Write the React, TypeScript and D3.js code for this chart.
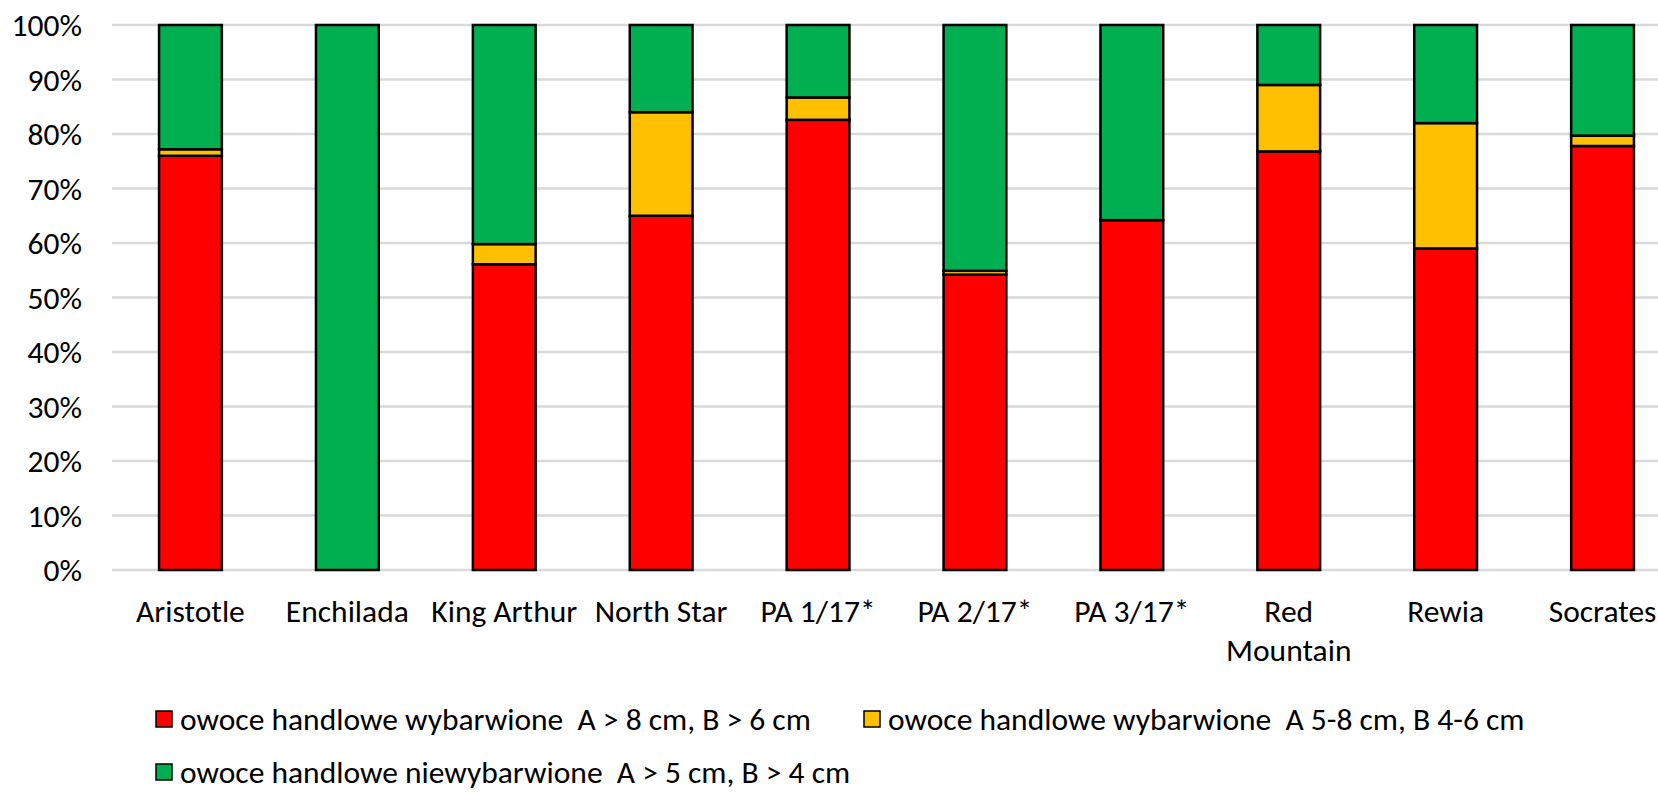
import * as d3 from 'd3';
import React from 'react';

// cultivars on the x axis
const categories = ["Aristotle", "Enchilada", "King Arthur", "North Star", "PA 1/17*",
    "PA 2/17*", "PA 3/17*", "Red Mountain", "Rewia", "Socrates"];

// shares of fruit (%)
const wybarwioneDuze = [76.0, 0, 56.1, 65.0, 82.6, 54.2, 64.2, 76.8, 59.0, 77.8];
const wybarwioneSrednie = [1.2, 0, 3.7, 19.0, 4.1, 0.7, 0, 12.2, 23.0, 1.9];
const niewybarwione = [22.8, 100, 40.2, 16.0, 13.3, 45.1, 35.8, 11.0, 18.0, 20.3];

const seriesNames = [
    "owoce handlowe wybarwione  A > 8 cm, B > 6 cm",
    "owoce handlowe wybarwione  A 5-8 cm, B 4-6 cm",
    "owoce handlowe niewybarwione  A > 5 cm, B > 4 cm",
];
const seriesColors = ["#FF0000", "#FFC000", "#00B050"];
const yTicks = [0, 10, 20, 30, 40, 50, 60, 70, 80, 90, 100];

const FONT = "Calibri, Carlito, Lato, 'Liberation Sans', sans-serif";
const W = 1658, H = 793;
const margin = {l: 112, t: 25, b: 570};

// measure text so long tick labels wrap like Excel does
function measure(text, size) {
    const c = document.createElement("canvas").getContext("2d");
    c.font = `${size}px Lato`;
    return c.measureText(text).width;
}

function wrap(label, width, size) {
    const words = label.split(" ");
    const lines = [];
    let line = [];
    words.forEach((w) => {
        const next = [...line, w].join(" ");
        if (line.length && measure(next, size) > width) {
            lines.push(line.join(" "));
            line = [w];
        } else line.push(w);
    });
    lines.push(line.join(" "));
    return lines;
}

export default function App() {
    const keys = ["a", "b", "c"];
    const table = categories.map((c, i) => ({
        cat: c, a: wybarwioneDuze[i], b: wybarwioneSrednie[i], c: niewybarwione[i],
    }));
    const stacked = d3.stack().keys(keys)(table);

    const x = d3.scaleBand().domain(categories)
        .range([margin.l, margin.l + 1569])
        .paddingInner(0.6)
        .paddingOuter(0.3);
    const y = d3.scaleLinear().domain([0, 100]).range([margin.b, margin.t]);
    const fs = 31.5;

    return (
        <svg width={W} height={H} style={{display: "block", position: "absolute", left: 0, top: 0}}
             fontFamily={FONT}>
            <rect width={W} height={H} fill="#fff" />
            {/* gridlines and y ticks */}
            {yTicks.map((t) => (
                <g key={t}>
                    <line x1={margin.l} x2={margin.l + 1569} y1={y(t)} y2={y(t)}
                          stroke="#d9d9d9" strokeWidth={2.5} />
                    <text x={82} y={y(t)} dy="0.35em" textAnchor="end" fontSize={fs} fill="#000">
                        {d3.format("d")(t)}%
                    </text>
                </g>
            ))}
            {/* stacked bars */}
            {stacked.map((s, si) => (
                <g key={s.key} fill={seriesColors[si]}>
                    {s.map((d) => (d[1] - d[0] > 0 ?
                        <rect key={d.data.cat} x={x(d.data.cat)} width={x.bandwidth()}
                              y={y(d[1])} height={y(d[0]) - y(d[1])}
                              stroke="#000" strokeWidth={2.5} /> : null))}
                </g>
            ))}
            {/* x labels */}
            {categories.map((c) => (
                <text key={c} x={x(c) + x.bandwidth() / 2} y={margin.b + 52} textAnchor="middle"
                      fontSize={fs} fill="#000">
                    {wrap(c, 172, fs).map((l, i) => (
                        <tspan key={i} x={x(c) + x.bandwidth() / 2} dy={i ? 39 : 0}>{l}</tspan>
                    ))}
                </text>
            ))}
            {/* legend */}
            {seriesNames.map((n, i) => {
                const lx = i === 1 ? 864 : 156;
                const ly = i === 2 ? 772 : 719;
                return (
                    <g key={n} transform={`translate(${lx},${ly})`}>
                        <rect x={0} y={-8} width={16} height={16} fill={seriesColors[i]}
                              stroke="#000" strokeWidth={1.5} />
                        <text x={24} y={0} dy="0.35em" fontSize={fs} fill="#000"
                              style={{whiteSpace: "pre"}}>{n}</text>
                    </g>
                );
            })}
        </svg>
    );
}
